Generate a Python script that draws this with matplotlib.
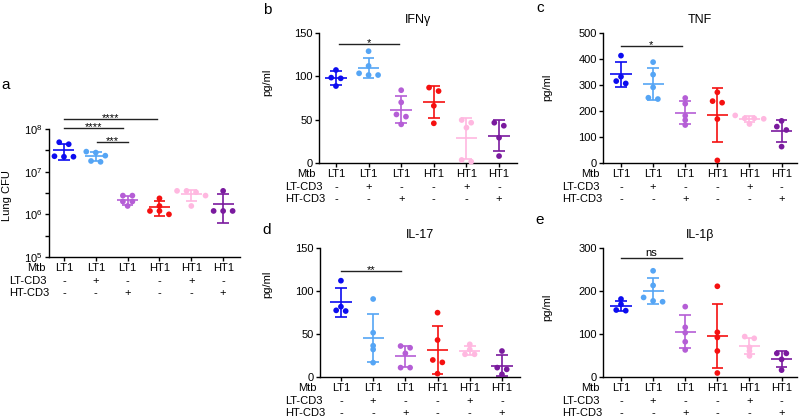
import numpy as np
import matplotlib
matplotlib.use('Agg')
import matplotlib.pyplot as plt
from matplotlib.ticker import FixedLocator, NullFormatter

plt.rcParams['font.family'] = ['Liberation Sans', 'DejaVu Sans']
plt.rcParams['mathtext.default'] = 'regular'

# group annotations under each column
mtb = ['LT1', 'LT1', 'LT1', 'HT1', 'HT1', 'HT1']
lt_cd3 = ['-', '+', '-', '-', '+', '-']
ht_cd3 = ['-', '-', '+', '-', '-', '+']
colors = ['#0c0cf0', '#55a5f5', '#b55ed6', '#f51010', '#ffb8e0', '#7a1a9e']

# a: lung CFU
cfu = [[4.9e7, 4.4e7, 2.24e7, 2.3e7, 2.24e7],
       [2.95e7, 2.37e7, 2.8e7, 1.7e7, 1.78e7],
       [2.75e6, 2.75e6, 2.0e6, 2.0e6, 1.57e6],
       [2.37e6, 1.57e6, 1.2e6, 1.2e6, 1.0e6],
       [3.55e6, 3.55e6, 3.3e6, 2.75e6, 1.57e6],
       [3.55e6, 1.2e6, 1.2e6, 1.2e6]]
# b: IFNg
ifng = [[107.3, 98.5, 97.7, 88.8],
        [129, 112, 101.5, 103.5, 101.5],
        [84, 70, 56, 53.5, 44.6],
        [83, 87, 66, 45.8],
        [49.6, 46.5, 40.8, 1.5, 3.5],
        [43, 46.5, 29.2, 8]]
# c: TNF
tnf = [[413, 332, 315, 306],
       [388, 340, 291, 246, 251],
       [250, 228, 182, 165, 146],
       [272, 232, 238, 169, 10],
       [183, 172, 170, 172, 150],
       [162, 140, 127, 63]]
# d: IL-17
il17 = [[112, 81.8, 76.7, 77.5],
        [90.7, 51.5, 36.4, 32, 16.7],
        [36, 34, 27.5, 10.9, 10.9],
        [74.8, 43, 19.8, 17, 3.9],
        [38, 32, 26.4, 26.4],
        [30.2, 10.9, 8.9, 3.1]]
# e: IL-1b
il1b = [[181.4, 169, 155.8, 154.3],
        [247, 213, 185, 175, 177],
        [163.6, 115.5, 103, 82, 63],
        [211, 92, 104, 60.5, 9.3],
        [94, 90, 69, 60.5, 49],
        [55, 55, 41, 16]]

W, H = 799, 418
fig = plt.figure(figsize=(W / 100, H / 100), dpi=100)


def add_ax(l, t, r, b):
    return fig.add_axes([l / W, 1 - b / H, (r - l) / W, (b - t) / H])


def swarm(ax, vals, T=3.5, S=9.5):
    # spread points with near-equal values sideways (pixel space)
    ys = ax.transData.transform(np.column_stack([np.zeros(len(vals)), vals]))[:, 1]
    order = np.argsort(-ys, kind='stable')
    clusters, cur = [], [order[0]]
    for a, b in zip(order[:-1], order[1:]):
        if ys[a] - ys[b] < T:
            cur.append(b)
        else:
            clusters.append(cur)
            cur = [b]
    clusters.append(cur)
    offs = np.zeros(len(vals))
    for c in clusters:
        n = len(c)
        for k, i in enumerate(c):
            offs[i] = (k - (n - 1) / 2) * S
    p0 = ax.transData.transform([[0, 1], [1, 1]])
    return offs / (p0[1, 0] - p0[0, 0])


def panel(ax, data, xlim, ylim, yticks, title=None, ylabel='pg/ml',
          ylab_xy=(-0.25, 0.5), row_dx=-35, log=False):
    if log:
        ax.set_yscale('log')
    ax.set_xlim(xlim)
    ax.set_ylim(ylim)
    for s in ['top', 'right']:
        ax.spines[s].set_visible(False)
    for s in ['left', 'bottom']:
        ax.spines[s].set_linewidth(1.0)
    ax.set_yticks(yticks)
    if log:
        ax.yaxis.set_minor_locator(FixedLocator([10 ** 5.5, 10 ** 6.5, 10 ** 7.5]))
        ax.yaxis.set_minor_formatter(NullFormatter())
        ax.tick_params(axis='y', which='minor', length=3, width=1)
    ax.set_xticks(range(len(mtb)))
    ax.set_xticklabels(mtb)
    ax.tick_params(length=3.2, width=1, labelsize=8, pad=1.2)
    for i, (vals, col) in enumerate(zip(data, colors)):
        v = np.array(vals, dtype=float)
        m, sd = v.mean(), v.std(ddof=1)
        kw = dict(color=col, lw=1.2, zorder=2, solid_capstyle='butt')
        ax.plot([i - 0.33, i + 0.33], [m, m], **kw)
        ax.plot([i, i], [m - sd, m + sd], **kw)
        ax.plot([i - 0.18, i + 0.18], [m + sd, m + sd], **kw)
        ax.plot([i - 0.18, i + 0.18], [m - sd, m - sd], **kw)
        ax.scatter(i + swarm(ax, v), v, s=17, color=col, edgecolors='none',
                   zorder=3, clip_on=False)
        for row, lab in zip([-17.3, -26], [lt_cd3[i], ht_cd3[i]]):
            ax.annotate(lab, (i, 0), xycoords=('data', 'axes fraction'),
                        xytext=(0, row), textcoords='offset points',
                        ha='center', va='center', fontsize=8)
    ax.annotate('Mtb', (0, 0), xycoords='axes fraction', xytext=(-22 * 0.72, -8.2),
                textcoords='offset points', ha='left', va='center', fontsize=8)
    for row, lab in zip([-17.3, -26], ['LT-CD3', 'HT-CD3']):
        ax.annotate(lab, (0, 0), xycoords='axes fraction', xytext=(row_dx * 0.72, row),
                    textcoords='offset points', ha='left', va='center', fontsize=8)
    if title:
        ax.set_title(title, fontsize=9, pad=7)
    ax.set_ylabel(ylabel, fontsize=8)
    ax.yaxis.set_label_coords(*ylab_xy)


def sig(ax, x0, x1, y, txt):
    ax.plot([x0, x1], [y, y], color='#222222', lw=1.0, clip_on=False)
    if txt == 'ns':
        ax.annotate(txt, ((x0 + x1) / 2, y), xytext=(0, 0), textcoords='offset points',
                    ha='center', va='bottom', fontsize=8, annotation_clip=False)
    else:
        ax.annotate(txt, ((x0 + x1) / 2, y), xytext=(0, 0.8), textcoords='offset points',
                    ha='center', va='center', fontsize=8, annotation_clip=False)


# a
ax_a = add_ax(49, 129, 240, 257)
panel(ax_a, cfu, (-0.47, 5.53), (1e5, 1e8), [1e5, 1e6, 1e7, 1e8],
      ylabel='Lung CFU', ylab_xy=(-37 / 191, 0.48), row_dx=-40, log=True)
sig(ax_a, 0, 2.93, 1.69e8, '****')
sig(ax_a, 0, 1.87, 1.07e8, '****')
sig(ax_a, 1.03, 2.01, 4.9e7, '***')

# b
ax_b = add_ax(319, 33, 517, 163)
panel(ax_b, ifng, (-0.52, 5.55), (0, 150), [0, 50, 100, 150], title='IFN\u03b3',
      ylab_xy=(-47 / 198, 0.62), row_dx=-34)
sig(ax_b, 0.08, 1.92, 137, '*')

# c
ax_c = add_ax(603, 33, 797, 163)
panel(ax_c, tnf, (-0.56, 5.48), (0, 500), [0, 100, 200, 300, 400, 500], title='TNF',
      ylab_xy=(-51 / 194, 0.58), row_dx=-41)
sig(ax_c, 0, 1.89, 451, '*')

# d
ax_d = add_ax(320, 248, 520, 377)
panel(ax_d, il17, (-0.65, 5.56), (0, 150), [0, 50, 100, 150], title='IL-17',
      ylab_xy=(-48 / 200, 0.72), row_dx=-35)
sig(ax_d, 0, 1.87, 123, '**')

# e
ax_e = add_ax(603, 248, 797, 377)
panel(ax_e, il1b, (-0.56, 5.48), (0, 300), [0, 100, 200, 300], title='IL-1\u03b2',
      ylab_xy=(-51 / 194, 0.54), row_dx=-41)
sig(ax_e, 0, 1.89, 276, 'ns')

for lab, x, y in [('a', 6, 85), ('b', 267, 10), ('c', 540, 8), ('d', 267, 230), ('e', 540, 220)]:
    fig.text(x / W, 1 - y / H, lab, fontsize=11, ha='center', va='center')

fig.savefig('out.png', dpi=100)
